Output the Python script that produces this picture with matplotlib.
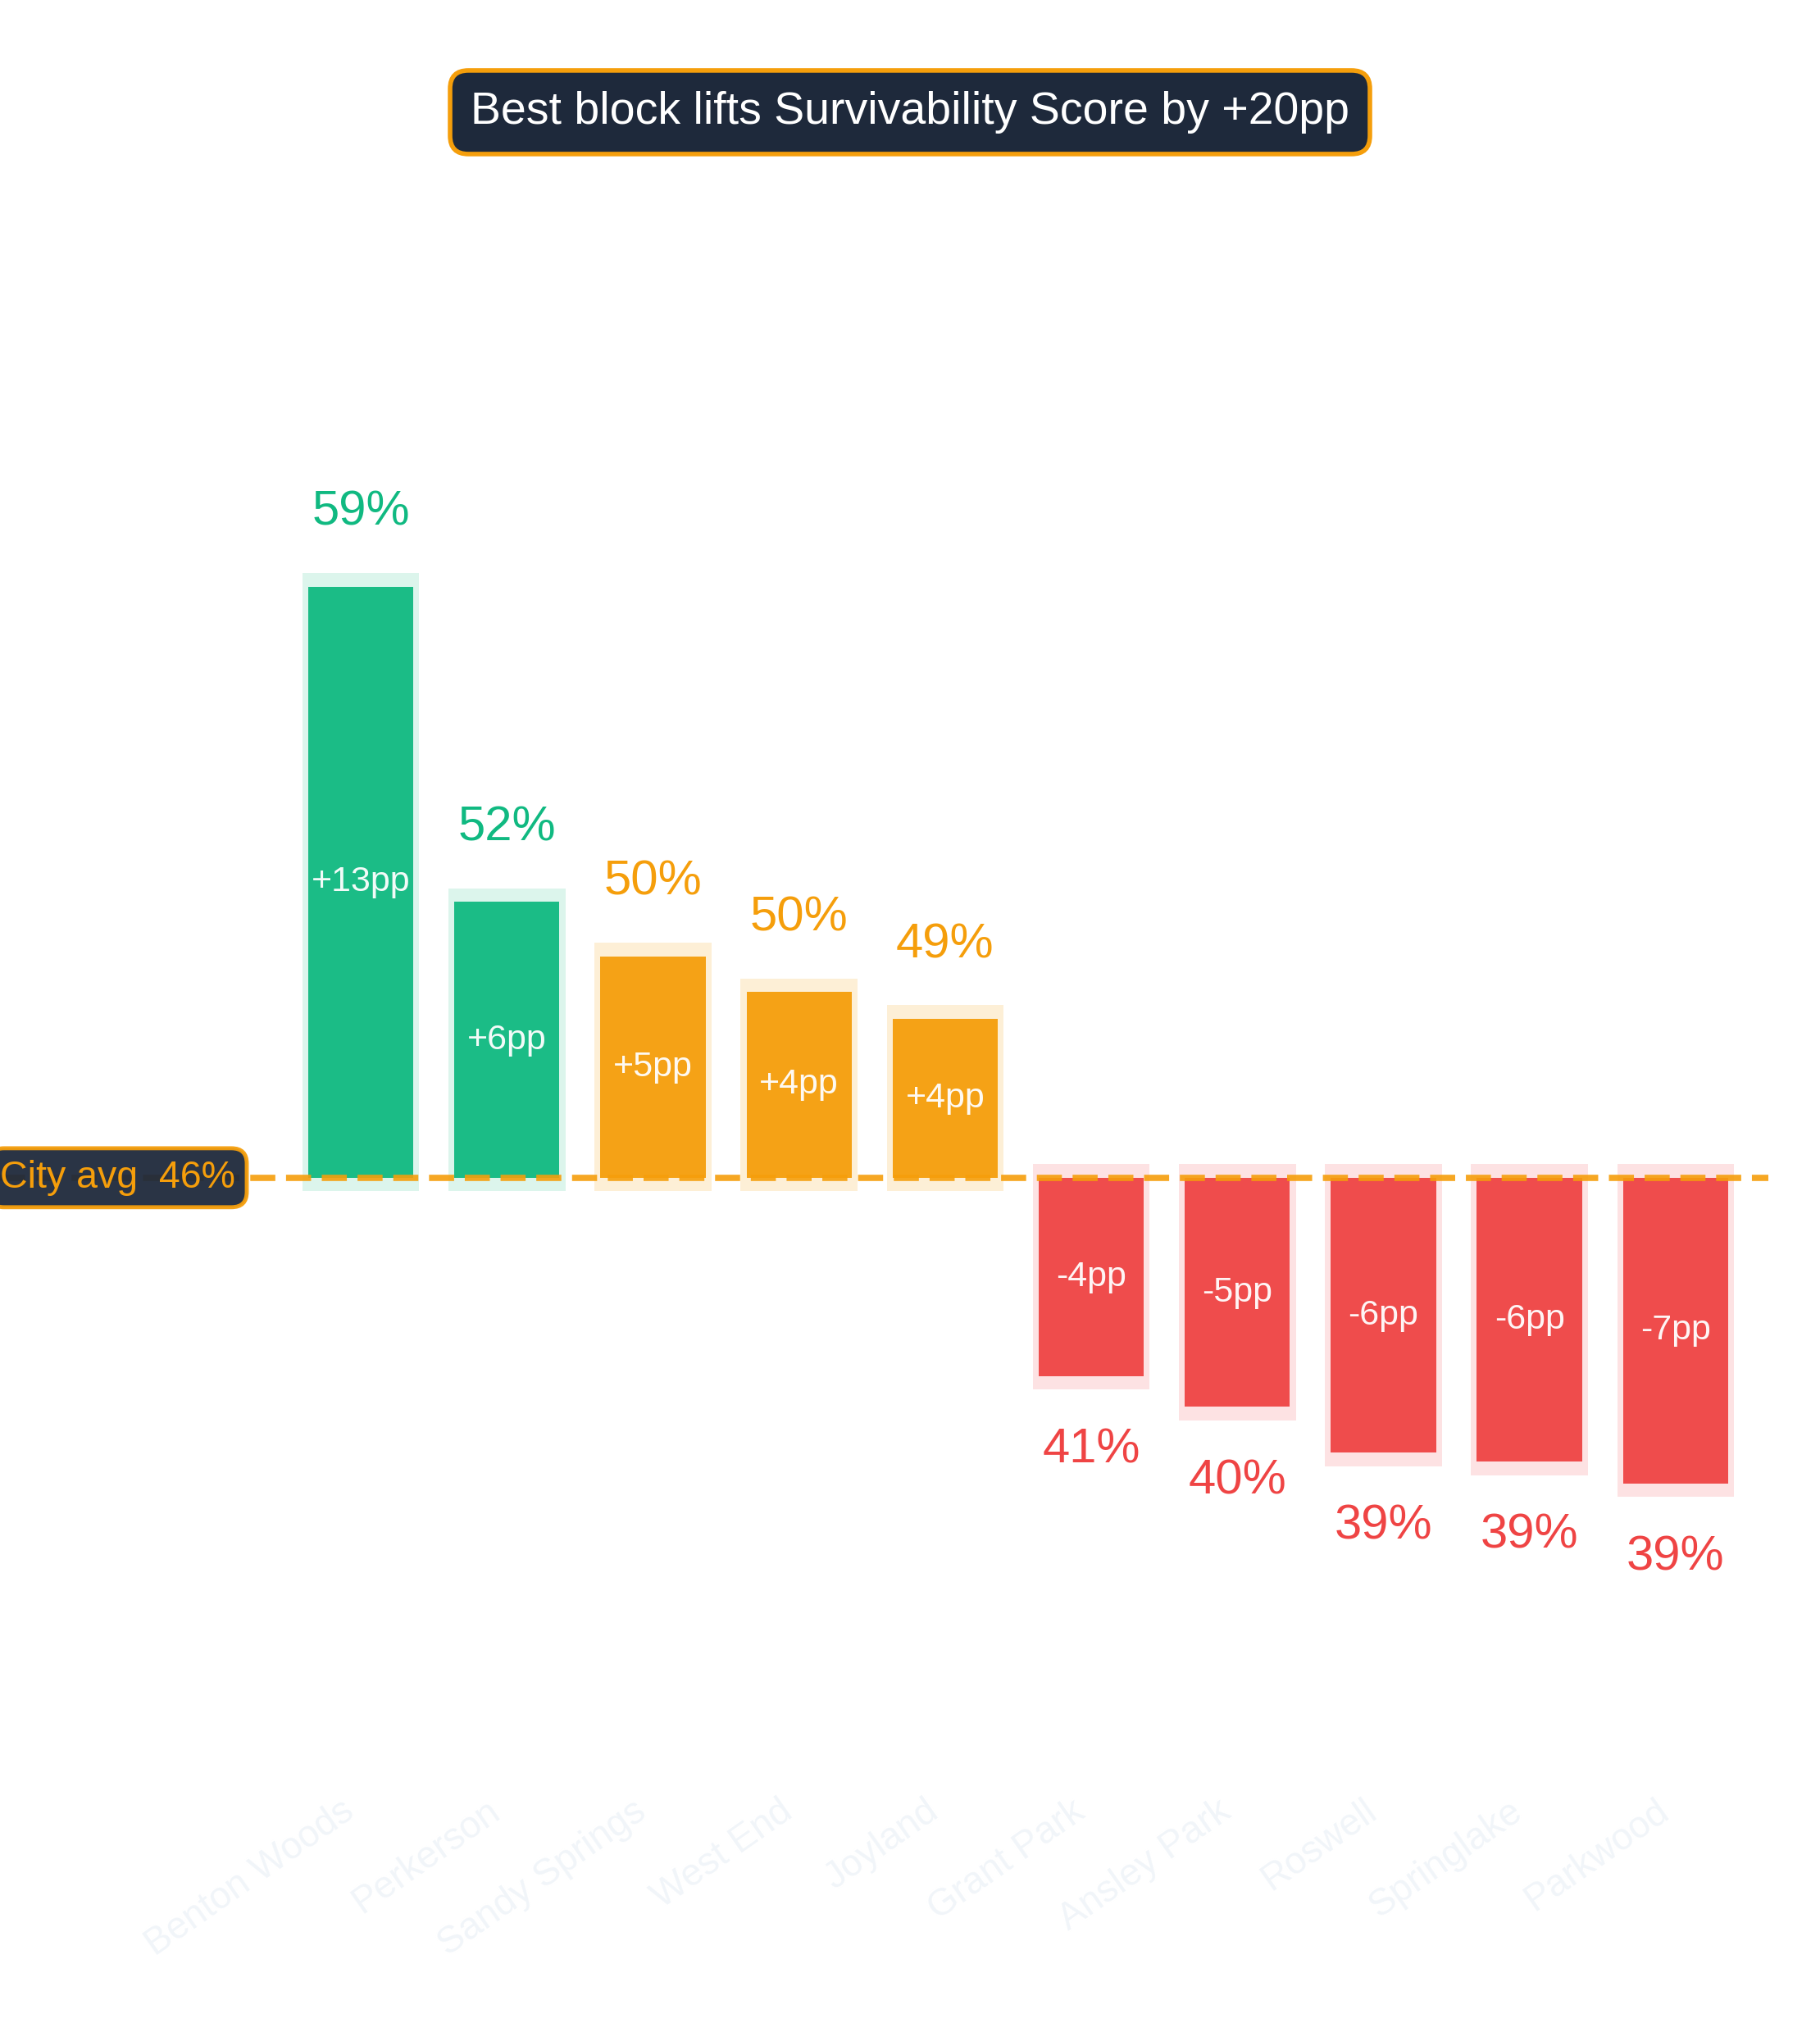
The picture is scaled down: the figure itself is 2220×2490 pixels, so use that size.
import matplotlib
matplotlib.use("Agg")
import matplotlib.pyplot as plt
from matplotlib.transforms import blended_transform_factory

plt.rcParams['font.family'] = ['Liberation Sans', 'DejaVu Sans']

# ---- data ----
neighborhoods = ["Benton Woods", "Perkerson", "Sandy Springs", "West End", "Joyland",
                 "Grant Park", "Ansley Park", "Roswell", "Springlake", "Parkwood"]
scores = [58.68, 51.66, 50.45, 49.66, 49.06, 41.11, 40.42, 39.40, 39.20, 38.71]
city_avg = 45.52
title_text = "Best block lifts Survivability Score by +20pp"

GREEN = "#10b981"
ORANGE = "#f59e0b"
RED = "#ef4444"
HALO = {GREEN: "#dcf5ec", ORANGE: "#fdefd6", RED: "#fde2e3"}
NAVY = "#1e293b"

fig = plt.figure(figsize=(22.2, 24.9), dpi=100)
ax = fig.add_axes([0.0, 0.1265, 0.9716, 0.9076 - 0.1265])
ax.set_xlim(-2.47, 9.635)
ax.set_ylim(32.05, 67.54)

halo_pad = 0.3
for i, (name, v) in enumerate(zip(neighborhoods, scores)):
    d = v - city_avg
    if d > 5:
        c = GREEN
    elif d > 0:
        c = ORANGE
    else:
        c = RED
    lo, hi = min(v, city_avg), max(v, city_avg)
    ax.bar(i, (hi - lo) + 2 * halo_pad, bottom=lo - halo_pad, width=0.80,
           color=HALO[c], zorder=1, linewidth=0)
    ax.bar(i, hi - lo, bottom=lo, width=0.72, color=c, alpha=0.95,
           zorder=2, linewidth=0)
    # inside label
    ax.text(i, (lo + hi) / 2, f"{d:+.0f}pp", ha='center', va='center',
            color='white', fontsize=31, alpha=0.95, zorder=4)
    # value label
    off = 65 if d > 0 else -65
    ax.annotate(f"{v:.0f}%", xy=(i, v), xytext=(0, off), textcoords='offset points',
                ha='center', va='center', color=c, fontsize=43, zorder=4)

ax.axhline(city_avg, color=ORANGE, lw=5.5, alpha=0.9,
           linestyle=(0, (22 / 5.5, 9.4 / 5.5)), zorder=3)

trans = blended_transform_factory(fig.transFigure, ax.transData)
ax.text(0.1293, city_avg, "City avg  46%", transform=trans, ha='right', va='center',
        color=ORANGE, fontsize=33.5, zorder=5,
        bbox=dict(boxstyle='round,pad=0.3,rounding_size=0.4', facecolor=NAVY,
                  edgecolor=ORANGE, linewidth=3.5, alpha=0.95))

ax.set_xticks(range(len(neighborhoods)))
ax.set_xticklabels(neighborhoods, rotation=35, ha='right', rotation_mode='default',
                   color='#f1f5f9', fontsize=33)
ax.tick_params(axis='x', length=0, pad=9)
ax.set_yticks([])
for s in ax.spines.values():
    s.set_visible(False)

fig.text(0.5, 0.945, title_text, ha='center', va='center', color='white', fontsize=40,
         bbox=dict(boxstyle='round,pad=0.45,rounding_size=0.4', facecolor=NAVY,
                   edgecolor=ORANGE, linewidth=4))

fig.savefig("out.png", dpi=100, facecolor='white')
